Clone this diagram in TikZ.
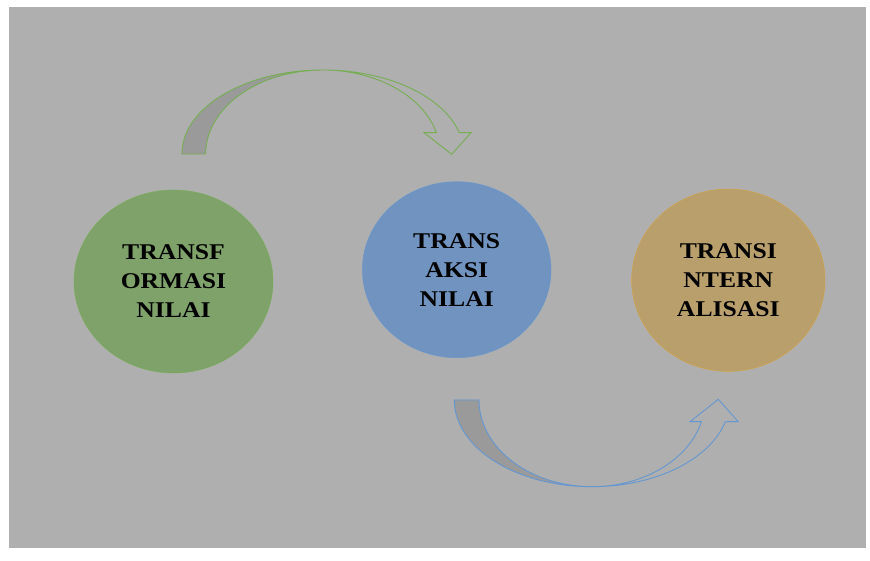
\documentclass[tikz,border=0pt]{standalone}
\usepackage{fontspec}
\setmainfont{Liberation Serif}[FakeStretch=1.14]
\usepackage{tikz}
\usetikzlibrary{positioning, shapes.geometric, calc}

\definecolor{bggray}{HTML}{AFAFAF}
\definecolor{shadegray}{HTML}{9A9A9A}
\definecolor{greenfill}{HTML}{7EA26A}
\definecolor{greenline}{HTML}{76AE52}
\definecolor{bluefill}{HTML}{7093BF}
\definecolor{blueline}{HTML}{6497D2}
\definecolor{orangefill}{HTML}{B89F6C}
\definecolor{orangeline}{HTML}{D7A33C}

\begin{document}
\begin{tikzpicture}[x=1pt, y=1pt,
    stage/.style={ellipse, inner sep=0pt, align=center,
        font={\fontsize{22.5}{29}\selectfont\bfseries}},
    bendarrow/.style={line width=0.9pt, line join=miter}]
    \useasboundingbox (0,0) rectangle (870,561);

    % Background panel
    \fill[bggray] (9,13) rectangle (866,554);

    % The three stages
    \node[stage, fill=greenfill, draw=greenline, minimum width=199pt, minimum height=183pt]
        (transformasi) at (173.5,279.5) {TRANSF\\ORMASI\\NILAI};
    \node[stage, fill=bluefill, draw=blueline, minimum width=188.6pt, minimum height=176pt]
        (transaksi) at (456.7,291.3) {TRANS\\AKSI\\NILAI};
    \node[stage, fill=orangefill, draw=orangeline, minimum width=193.4pt, minimum height=182.4pt]
        (transinternalisasi) at (728.3,280.8) {TRANSI\\NTERN\\ALISASI};

    % Curved arrow over the top
    \coordinate (topc) at (323,407);
    \fill[shadegray] ($(topc)+(-141,0)$) arc[start angle=180, end angle=90, x radius=141, y radius=84]
        arc[start angle=90, end angle=180, x radius=117.3, y radius=84] -- cycle;
    \draw[bendarrow, draw=greenline] (181.9,407)
        arc[start angle=180, end angle=14.7, x radius=141, y radius=84]
        -- (471,428.3) -- (451.7,406.7) -- (424,428.3) -- (436.4,428.3)
        arc[start angle=14.7, end angle=180, x radius=117.3, y radius=84] -- cycle;

    % Curved arrow underneath
    \coordinate (botc) at (592,161);
    \fill[shadegray] ($(botc)+(-137.7,0)$) arc[start angle=180, end angle=270, x radius=137.7, y radius=86.7]
        arc[start angle=270, end angle=180, x radius=113, y radius=86.7] -- cycle;
    \draw[bendarrow, draw=blueline] (454.3,161)
        arc[start angle=180, end angle=345.5, x radius=137.7, y radius=86.7]
        -- (738.3,139.3) -- (718.3,161.7) -- (690,139.3) -- (701.4,139.3)
        arc[start angle=345.5, end angle=180, x radius=113, y radius=86.7] -- cycle;
\end{tikzpicture}
\end{document}
